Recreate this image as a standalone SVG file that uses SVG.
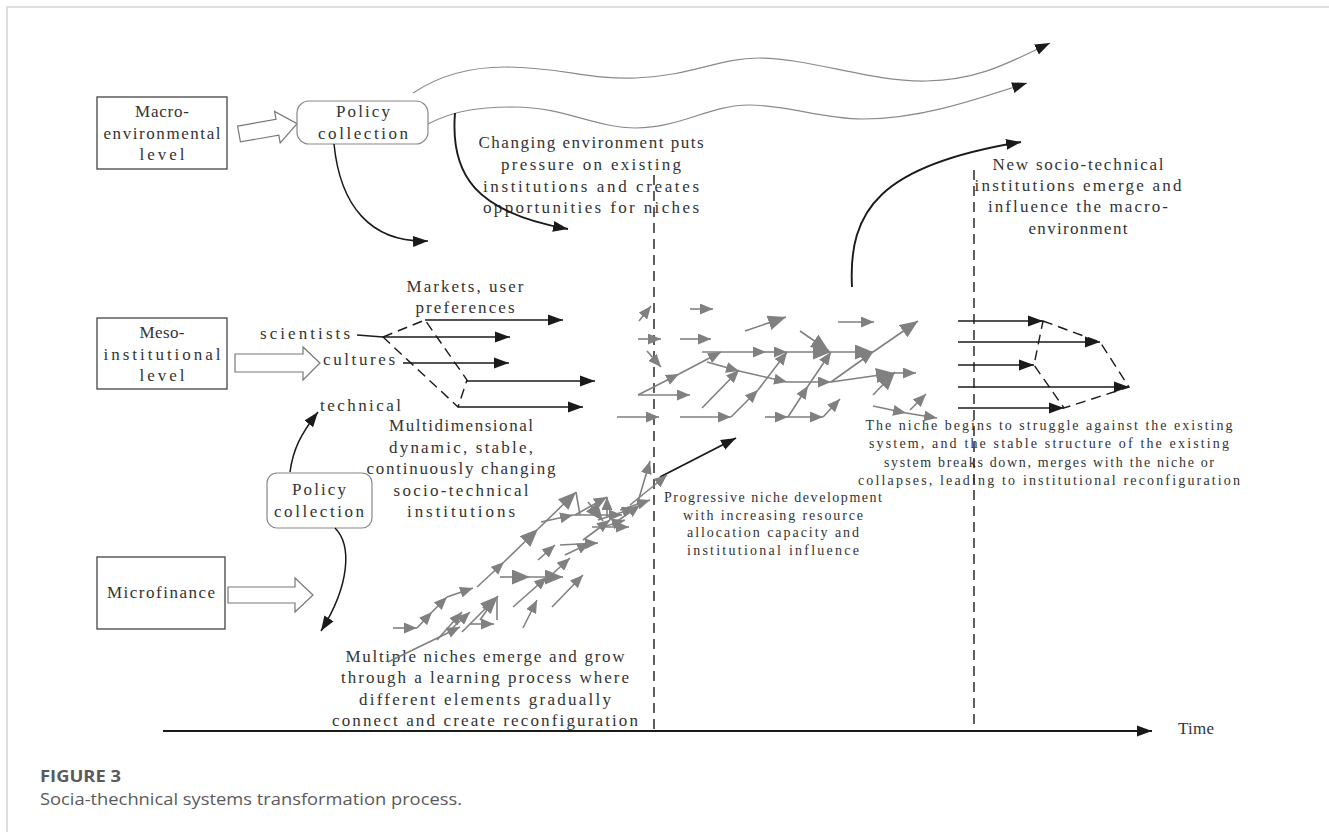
<svg xmlns="http://www.w3.org/2000/svg" width="1329" height="832" viewBox="0 0 1329 832">
<style>
text{font-family:"Liberation Serif","DejaVu Serif",serif;fill:#333}
.t15{font-size:17px}
.t12{font-size:14px}
.box{fill:#fff;stroke:#444;stroke-width:1.3}
.rbox{fill:#fff;stroke:#888;stroke-width:1.2}
.hollow{fill:#fff;stroke:#777;stroke-width:1.2}
.k{fill:none;stroke:#1a1a1a;stroke-width:1.5}
.kt{fill:none;stroke:#1a1a1a;stroke-width:1.9}
.wave{fill:none;stroke:#8a8a8a;stroke-width:1.2}
.g{fill:none;stroke:#808080;stroke-width:1.6}
.dash{fill:none;stroke:#1a1a1a;stroke-width:1.4;stroke-dasharray:10 6}
.cap{font-family:"Open Sans","Lato",sans-serif;fill:#5a5a5a}
</style>
<defs>
<marker id="hb" markerUnits="userSpaceOnUse" markerWidth="16" markerHeight="12" refX="15" refY="6" orient="auto"><path d="M0,0.5 L15,6 L0,11.5 z" fill="#1a1a1a"/></marker>
<marker id="gm" markerUnits="userSpaceOnUse" markerWidth="14" markerHeight="11" refX="13" refY="5.5" orient="auto"><path d="M0,0 L13,5.5 L0,11 z" fill="#808080"/></marker>
<marker id="gl" markerUnits="userSpaceOnUse" markerWidth="19" markerHeight="15" refX="18" refY="7.5" orient="auto"><path d="M0,0 L18,7.5 L0,15 z" fill="#808080"/></marker>
</defs>
<rect width="1329" height="832" fill="#fff"/>
<path d="M7,832 L7,7 L1329,7" fill="none" stroke="#d4d4d4" stroke-width="1.5"/>

<g id="macro-box">
<rect class="box" x="97" y="97" width="130" height="72"/>
<text class="t15" x="162" y="117" text-anchor="middle" textLength="54">Macro-</text>
<text class="t15" x="162" y="139" text-anchor="middle" textLength="117">environmental</text>
<text class="t15" x="162" y="160" text-anchor="middle" textLength="45">level</text>
</g>
<g id="macro-arrow"><polygon class="hollow" points="237.6,126.1 276,119.3 274.6,111.4 297.1,123.7 280.2,143 278.8,135.1 240.4,141.9"/></g>
<g id="policy-top">
<rect class="rbox" x="297" y="101" width="131" height="43" rx="12"/>
<text class="t15" x="363" y="117" text-anchor="middle" textLength="54">Policy</text>
<text class="t15" x="363" y="139" text-anchor="middle" textLength="90">collection</text>
</g>

<g id="meso-box">
<rect class="box" x="97" y="318" width="130" height="71"/>
<text class="t15" x="162" y="338" text-anchor="middle" textLength="45">Meso-</text>
<text class="t15" x="162" y="360" text-anchor="middle" textLength="117">institutional</text>
<text class="t15" x="162" y="381" text-anchor="middle" textLength="45">level</text>
</g>
<g id="meso-arrow"><polygon class="hollow" points="235,354 303,354 303,347 320,363 303,380 303,372 235,372"/></g>

<g id="micro-box">
<rect class="box" x="97" y="557" width="128" height="72"/>
<text class="t15" x="161" y="598" text-anchor="middle" textLength="108">Microfinance</text>
</g>
<g id="micro-arrow"><polygon class="hollow" points="228,587 295,587 295,578 313,595 295,612 295,603 228,603"/></g>
<g id="policy-low">
<rect class="rbox" x="267" y="473" width="105" height="55" rx="10"/>
<text class="t15" x="319" y="495" text-anchor="middle" textLength="54">Policy</text>
<text class="t15" x="319" y="517" text-anchor="middle" textLength="90">collection</text>
</g>

<g id="labels">
<text class="t15" x="591" y="148" text-anchor="middle" textLength="225">Changing environment puts</text>
<text class="t15" x="591" y="170" text-anchor="middle" textLength="180">pressure on existing</text>
<text class="t15" x="591" y="192" text-anchor="middle" textLength="216">institutions and creates</text>
<text class="t15" x="591" y="213" text-anchor="middle" textLength="216">opportunities for niches</text>
<text class="t15" x="1078" y="170" text-anchor="middle" textLength="171">New socio-technical</text>
<text class="t15" x="1078" y="191" text-anchor="middle" textLength="207">institutions emerge and</text>
<text class="t15" x="1078" y="212" text-anchor="middle" textLength="180">influence the macro-</text>
<text class="t15" x="1078" y="234" text-anchor="middle" textLength="99">environment</text>
<text class="t15" x="465" y="292" text-anchor="middle" textLength="117">Markets, user</text>
<text class="t15" x="465" y="313" text-anchor="middle" textLength="99">preferences</text>
<text class="t15" x="260" y="339" textLength="90">scientists</text>
<text class="t15" x="323" y="365" textLength="72">cultures</text>
<text class="t15" x="320" y="411" textLength="81">technical</text>
<text class="t15" x="461" y="431" text-anchor="middle" textLength="144">Multidimensional</text>
<text class="t15" x="461" y="453" text-anchor="middle" textLength="144">dynamic, stable,</text>
<text class="t15" x="461" y="474" text-anchor="middle" textLength="189">continuously changing</text>
<text class="t15" x="461" y="496" text-anchor="middle" textLength="135">socio-technical</text>
<text class="t15" x="461" y="517" text-anchor="middle" textLength="108">institutions</text>
<text class="t12" x="1049" y="430" text-anchor="middle" textLength="367">The niche begins to struggle against the existing</text>
<text class="t12" x="1049" y="448" text-anchor="middle" textLength="360">system, and the stable structure of the existing</text>
<text class="t12" x="1049" y="467" text-anchor="middle" textLength="330">system breaks down, merges with the niche or</text>
<text class="t12" x="1049" y="485" text-anchor="middle" textLength="382">collapses, leading to institutional reconfiguration</text>
<text class="t12" x="773" y="502" text-anchor="middle" textLength="218">Progressive niche development</text>
<text class="t12" x="773" y="520" text-anchor="middle" textLength="180">with increasing resource</text>
<text class="t12" x="773" y="537" text-anchor="middle" textLength="172">allocation capacity and</text>
<text class="t12" x="773" y="555" text-anchor="middle" textLength="172">institutional influence</text>
<text class="t15" x="485" y="662" text-anchor="middle" textLength="279">Multiple niches emerge and grow</text>
<text class="t15" x="485" y="683" text-anchor="middle" textLength="288">through a learning process where</text>
<text class="t15" x="485" y="705" text-anchor="middle" textLength="252">different elements gradually</text>
<text class="t15" x="485" y="726" text-anchor="middle" textLength="306">connect and create reconfiguration</text>
<text class="t15" x="1178" y="734" textLength="36">Time</text>
</g>

<g id="connectors">
<path class="wave" d="M413,93 C440,75 470,67 505,67 C560,67 590,80 636,78 C690,76 720,58 758,58 C810,58 870,82 926,81 C980,80 1010,62 1050,43" marker-end="url(#hb)"/>
<path class="wave" d="M428,124 C455,110 480,107 514,107 C565,107 595,128 636,128 C680,128 710,105 749,105 C790,105 820,119 863,119 C920,119 975,100 1027,83" marker-end="url(#hb)"/>
<path class="k" d="M334,144 C340,205 370,243 428,241" marker-end="url(#hb)"/>
<path class="kt" d="M455,113 C450,175 475,212 568,229" marker-end="url(#hb)"/>
<path class="kt" d="M852,287 C848,210 880,165 1021,142" marker-end="url(#hb)"/>
<path class="k" d="M290,472 C293,450 300,435 318,412" marker-end="url(#hb)"/>
<path class="k" d="M335,528 C352,545 350,585 321,631" marker-end="url(#hb)"/>
<path class="kt" d="M660,477 L736,438" marker-end="url(#hb)"/>

<path class="dash" d="M654,175 L654,731"/>
<path class="dash" d="M974,170 L974,731"/>
<path d="M163,731 L1152,731" fill="none" stroke="#1a1a1a" stroke-width="2" marker-end="url(#hb)"/>

<path class="k" d="M357,335 L383,337"/>
<path class="k" d="M383,337 L510,337" marker-end="url(#hb)"/>
<path class="k" d="M403,363 L509,363" marker-end="url(#hb)"/>
<path class="k" d="M425,320 L563,320" marker-end="url(#hb)"/>
<path class="k" d="M467,381 L595,381" marker-end="url(#hb)"/>
<path class="k" d="M458,407 L583,407" marker-end="url(#hb)"/>
<path class="dash" d="M383,337 L425,320 L467,380 L458,407 Z"/>

<path class="k" d="M958,321 L1043,321" marker-end="url(#hb)"/>
<path class="k" d="M958,342 L1100,342" marker-end="url(#hb)"/>
<path class="k" d="M958,365 L1034,365" marker-end="url(#hb)"/>
<path class="k" d="M958,387 L1129,387" marker-end="url(#hb)"/>
<path class="k" d="M958,408 L1064,408" marker-end="url(#hb)"/>
<path class="dash" d="M1043,321 L1100,342 L1129,387 L1064,408 L1034,365 Z"/>

<path class="g" d="M639,321 L651,306" marker-end="url(#gm)"/>
<path class="g" d="M690,309 L713,309" marker-end="url(#gm)"/>
<path class="g" d="M745,331 L786,317" marker-end="url(#gl)"/>
<path class="g" d="M838,322 L874,322" marker-end="url(#gm)"/>
<path class="g" d="M638,339 L661,339" marker-end="url(#gm)"/>
<path class="g" d="M680,339 L711,339" marker-end="url(#gm)"/>
<path class="g" d="M647,351 L661,367" marker-end="url(#gm)"/>
<path class="g" d="M702,352 L766,352" marker-end="url(#gm)"/>
<path class="g" d="M766,352 L787,352" marker-end="url(#gm)"/>
<path class="g" d="M787,352 L831,352" marker-end="url(#gl)"/>
<path class="g" d="M831,352 L873,352" marker-end="url(#gl)"/>
<path class="g" d="M800,331 L829,351" marker-end="url(#gl)"/>
<path class="g" d="M638,395 L679,374" marker-end="url(#gm)"/>
<path class="g" d="M679,374 L721,352" marker-end="url(#gm)"/>
<path class="g" d="M638,395 L690,395" marker-end="url(#gm)"/>
<path class="g" d="M707,362 L739,371" marker-end="url(#gm)"/>
<path class="g" d="M739,371 L787,382" marker-end="url(#gm)"/>
<path class="g" d="M787,382 L831,382" marker-end="url(#gm)"/>
<path class="g" d="M831,382 L894,373" marker-end="url(#gl)"/>
<path class="g" d="M894,373 L916,373" marker-end="url(#gm)"/>
<path class="g" d="M702,408 L739,370" marker-end="url(#gm)"/>
<path class="g" d="M617,417 L659,417" marker-end="url(#gm)"/>
<path class="g" d="M680,417 L731,417" marker-end="url(#gm)"/>
<path class="g" d="M731,417 L758,390" marker-end="url(#gm)"/>
<path class="g" d="M758,390 L787,352" marker-end="url(#gm)"/>
<path class="g" d="M765,417 L788,417" marker-end="url(#gm)"/>
<path class="g" d="M788,417 L823,417" marker-end="url(#gm)"/>
<path class="g" d="M823,417 L840,399" marker-end="url(#gm)"/>
<path class="g" d="M788,417 L808,386" marker-end="url(#gm)"/>
<path class="g" d="M808,386 L831,352" marker-end="url(#gm)"/>
<path class="g" d="M831,382 L873,352" marker-end="url(#gm)"/>
<path class="g" d="M873,352 L918,321" marker-end="url(#gl)"/>
<path class="g" d="M873,395 L895,372" marker-end="url(#gl)"/>
<path class="g" d="M873,406 L906,413" marker-end="url(#gm)"/>
<path class="g" d="M906,413 L937,418" marker-end="url(#gm)"/>
<path class="g" d="M910,410 L926,394" marker-end="url(#gm)"/>

<path class="g" d="M393,628 L417,628" marker-end="url(#gm)"/>
<path class="g" d="M417,628 L432,612" marker-end="url(#gm)"/>
<path class="g" d="M432,612 L447,597" marker-end="url(#gm)"/>
<path class="g" d="M447,597 L473,588" marker-end="url(#gm)"/>
<path class="g" d="M477,587 L504,562" marker-end="url(#gm)"/>
<path class="g" d="M504,562 L538,529" marker-end="url(#gl)"/>
<path class="g" d="M538,529 L576,492" marker-end="url(#gl)"/>
<path class="g" d="M541,522 L573,515" marker-end="url(#gm)"/>
<path class="g" d="M573,515 L622,515" marker-end="url(#gm)"/>
<path class="g" d="M592,527 L629,527" marker-end="url(#gm)"/>
<path class="g" d="M576,492 L580,515"/>
<path class="g" d="M575,515 L607,497" marker-end="url(#gm)"/>
<path class="g" d="M607,517 L607,497" marker-end="url(#gm)"/>
<path class="g" d="M588,502 L603,521" marker-end="url(#gl)"/>
<path class="g" d="M388,662 L460,627" marker-end="url(#gm)"/>
<path class="g" d="M437,640 L462,612" marker-end="url(#gm)"/>
<path class="g" d="M448,632 L470,612" marker-end="url(#gm)"/>
<path class="g" d="M470,624 L494,624" marker-end="url(#gm)"/>
<path class="g" d="M462,632 L498,596" marker-end="url(#gl)"/>
<path class="g" d="M497,597 L497,620"/>
<path class="g" d="M480,620 L494,600" marker-end="url(#gm)"/>
<path class="g" d="M500,577 L530,577" marker-end="url(#gl)"/>
<path class="g" d="M513,607 L547,577" marker-end="url(#gm)"/>
<path class="g" d="M523,628 L537,600" marker-end="url(#gm)"/>
<path class="g" d="M552,607 L583,575" marker-end="url(#gm)"/>
<path class="g" d="M530,577 L563,577" marker-end="url(#gl)"/>
<path class="g" d="M538,560 L555,545" marker-end="url(#gm)"/>
<path class="g" d="M565,555 L590,543" marker-end="url(#gm)"/>
<path class="g" d="M548,578 L570,558" marker-end="url(#gm)"/>
<path class="g" d="M560,545 L598,543" marker-end="url(#gm)"/>
<path class="g" d="M583,540 L610,520" marker-end="url(#gm)"/>
<path class="g" d="M600,528 L625,520" marker-end="url(#gm)"/>
<path class="g" d="M612,525 L640,505" marker-end="url(#gm)"/>
<path class="g" d="M620,510 L650,500" marker-end="url(#gm)"/>
<path class="g" d="M630,505 L667,475" marker-end="url(#gm)"/>
<path class="g" d="M637,505 L650,461" marker-end="url(#gm)"/>
<path class="g" d="M598,520 L635,508" marker-end="url(#gm)"/>
</g>

<g id="caption">
<text class="cap" x="40" y="782" font-size="16" font-weight="700" textLength="81" lengthAdjust="spacingAndGlyphs">FIGURE 3</text>
<text class="cap" x="40" y="805" font-size="16.5" textLength="422" lengthAdjust="spacingAndGlyphs" fill="#666">Socia-thechnical systems transformation process.</text>
</g>
</svg>
